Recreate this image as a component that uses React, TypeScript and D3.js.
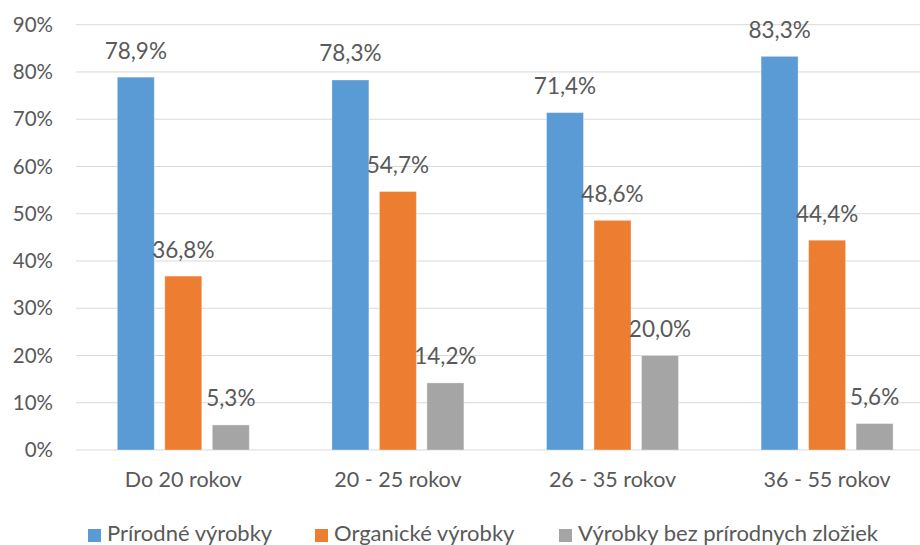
import React from "react";
import * as d3 from "d3";

const categories = ["Do 20 rokov", "20 - 25 rokov", "26 - 35 rokov", "36 - 55 rokov"];
const seriesNames = ["Prírodné výrobky", "Organické výrobky", "Výrobky bez prírodnych zložiek"];
const prirodne = [78.9, 78.3, 71.4, 83.3];
const organicke = [36.8, 54.7, 48.6, 44.4];
const bezPrirodnych = [5.3, 14.2, 20.0, 5.6];
const yTicks = [0, 10, 20, 30, 40, 50, 60, 70, 80, 90];
const colors = ["#5B9BD5", "#ED7D31", "#A5A5A5"];

const W = 920;
const H = 545;
const FONT = "Lato, 'Open Sans', sans-serif";
const TEXT = "#595959";

export default function App() {
  const series = [prirodne, organicke, bezPrirodnych];
  const plotLeft = 76;
  const band = 214.6;
  const x = d3.scaleBand<string>().domain(categories).range([plotLeft, plotLeft + band * categories.length]).padding(0);
  const y = d3.scaleLinear().domain([0, 90]).range([450, 24.7]);
  const barW = 37;
  const step = 47.5;
  const legendX = [88, 315, 559];

  return (
    <svg width={W} height={H} style={{ position: "absolute", left: 0, top: 0, background: "#fff" }} fontFamily={FONT}>
      <rect x={0} y={0} width={W} height={H} fill="#fff" />
      {yTicks.map((t) => (
        <g key={t}>
          <line x1={plotLeft} x2={W} y1={y(t)} y2={y(t)} stroke="#D9D9D9" strokeWidth={1} />
          <text x={53} y={y(t)} dy="0.35em" textAnchor="end" fontSize={20.5} fill={TEXT}>
            {t}%
          </text>
        </g>
      ))}
      {categories.map((c, ci) => {
        const cx = (x(c) as number) + x.bandwidth() / 2;
        return (
          <g key={c}>
            {series.map((s, si) => {
              const bx = cx + (si - 1) * step - barW / 2;
              const v = s[ci];
              return (
                <g key={si}>
                  <rect x={bx} y={y(v)} width={barW} height={y(0) - y(v)} fill={colors[si]} stroke="#fff" strokeOpacity={0.35} strokeWidth={1} />
                  <text x={bx + barW / 2} y={y(v) - 18.5} textAnchor="middle" fontSize={22.5} fill={TEXT}>
                    {v.toFixed(1).replace(".", ",")}%
                  </text>
                </g>
              );
            })}
            <text x={cx} y={487} textAnchor="middle" fontSize={21.5} fill={TEXT}>
              {c}
            </text>
          </g>
        );
      })}
      {seriesNames.map((n, i) => (
        <g key={n}>
          <rect x={legendX[i]} y={529} width={13} height={13} fill={colors[i]} />
          <text x={legendX[i] + 19} y={541} fontSize={22} fill={TEXT}>
            {n}
          </text>
        </g>
      ))}
    </svg>
  );
}
